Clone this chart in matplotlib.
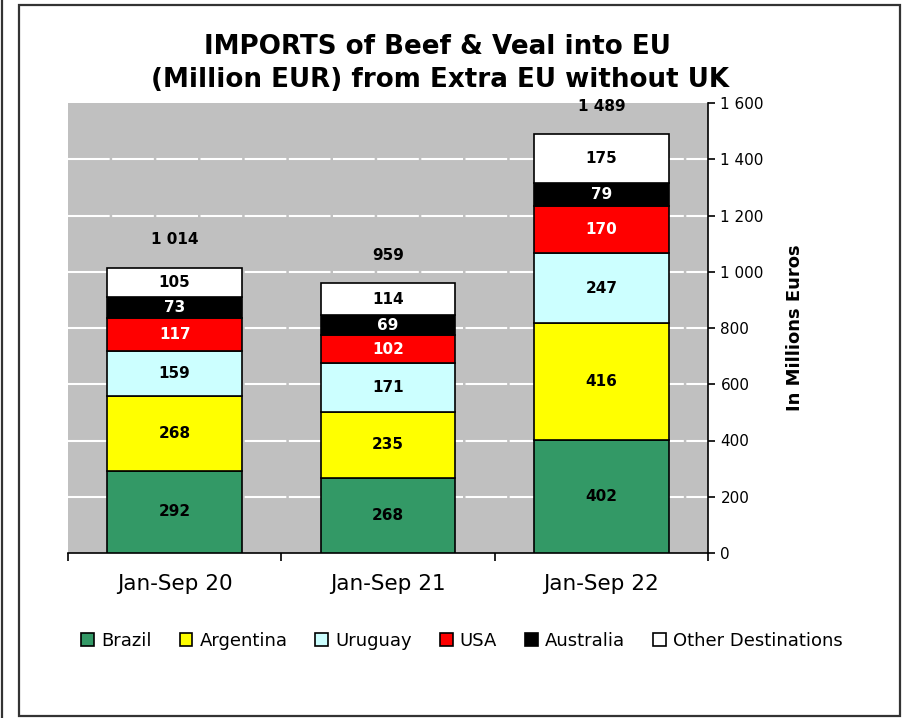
import numpy as np
import matplotlib
matplotlib.use("Agg")
from matplotlib import pyplot as plt
from matplotlib.patches import Rectangle
from matplotlib.lines import Line2D
from matplotlib.ticker import FuncFormatter

periods = ["Jan-Sep 20", "Jan-Sep 21", "Jan-Sep 22"]
brazil = [292, 268, 402]
argentina = [268, 235, 416]
uruguay = [159, 171, 247]
usa = [117, 102, 170]
australia = [73, 69, 79]
other = [105, 114, 175]
series_names = ["Brazil", "Argentina", "Uruguay", "USA", "Australia", "Other Destinations"]
totals = [1014, 959, 1489]

colors = ["#339966", "#FFFF00", "#CCFFFF", "#FF0000", "#000000", "#FFFFFF"]
text_colors = ["black", "black", "black", "white", "white", "black"]

plt.rcParams["font.family"] = ["DejaVu Sans"]

fig = plt.figure(figsize=(9.03, 7.18), dpi=100)
W, H = 903, 718

# frame lines around the chart
fig.add_artist(Rectangle((19 / W, 1 - 716 / H), 881 / W, 711 / H, transform=fig.transFigure,
                         fill=False, edgecolor="#333333", linewidth=1.6))
fig.add_artist(Line2D([2 / W, 2 / W], [0, 1], transform=fig.transFigure, color="#333333", linewidth=1.6))

ax = fig.add_axes([68 / W, 1 - 553 / H, 640 / W, 450 / H])
ax.set_facecolor("#C0C0C0")

x = np.arange(len(periods))
data = [brazil, argentina, uruguay, usa, australia, other]
bottom = np.zeros(len(periods))
handles = []
for vals, name, c, tc in zip(data, series_names, colors, text_colors):
    bars = ax.bar(x, vals, 0.63, bottom=bottom, color=c, edgecolor="black", linewidth=1.2,
                  label=name, zorder=3)
    handles.append(bars)
    for xi, b, v in zip(x, bottom, vals):
        ax.text(xi, b + v / 2, str(v), ha="center", va="center", fontsize=11,
                fontweight="bold", color=tc, zorder=4)
    bottom = bottom + np.array(vals)

for xi, t in zip(x, totals):
    ax.text(xi, t + 100, "{:,}".format(t).replace(",", " "), ha="center", va="center",
            fontsize=11, fontweight="bold", color="black")

ax.set_xlim(-0.5, 2.5)
ax.set_ylim(0, 1600)
ax.set_yticks(np.arange(0, 1601, 200))
ax.yaxis.set_major_formatter(FuncFormatter(lambda v, p: "{:,}".format(int(v)).replace(",", " ")))
ax.yaxis.tick_right()
ax.yaxis.set_label_position("right")
ax.tick_params(axis="y", labelsize=11, length=5, width=1.2, direction="out", pad=4)
ax.set_ylabel("In Millions Euros", fontsize=13, fontweight="bold", labelpad=16)

ax.set_xticks(x)
ax.set_xticklabels(periods, fontsize=15.5)
ax.tick_params(axis="x", length=0, pad=15)
ax.set_xticks([-0.5, 0.5, 1.5, 2.5], minor=True)
ax.tick_params(axis="x", which="minor", length=6, width=1.2, direction="out")

for yv in np.arange(200, 1600, 200):
    ax.axhline(yv, color="white", linewidth=1.5, linestyle=(0, (20, 1.2)), zorder=1)

for s in ["top", "left"]:
    ax.spines[s].set_visible(False)
ax.spines["bottom"].set_linewidth(1.2)
ax.spines["right"].set_linewidth(1.2)

fig.text(437 / W, 1 - 47 / H, "IMPORTS of Beef & Veal into EU", ha="center", va="center",
         fontsize=18.8, fontweight="bold")
fig.text(440 / W, 1 - 80 / H, "(Million EUR) from Extra EU without UK", ha="center", va="center",
         fontsize=18.8, fontweight="bold")

fig.legend(handles=handles, loc="center", bbox_to_anchor=(462 / W, 1 - 641 / H), ncol=6,
           frameon=False, fontsize=13, handlelength=0.7, handleheight=0.7,
           handletextpad=0.4, columnspacing=1.55)

plt.savefig("out.png", dpi=100)
